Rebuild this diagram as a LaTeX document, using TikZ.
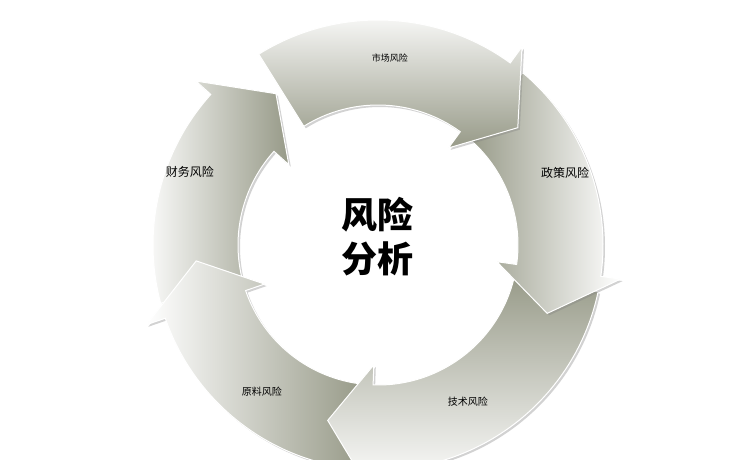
\documentclass[tikz,border=0pt]{standalone}
\usepackage{fontspec}
\newfontfamily\cjk{Noto Sans CJK SC}
\usetikzlibrary{shadows}
\definecolor{ringgray}{HTML}{979A88}
\tikzset{seg/.style={draw=white,line width=1pt,shading=axis,left color=white,right color=ringgray,drop shadow={opacity=0.35,shadow xshift=2pt,shadow yshift=-2pt}},
lab/.style={font=\cjk}}
\newcommand{\ringarrow}[3]{% tail, tip, shading angle
 \pgfmathsetmacro{\hb}{#2+14}
 \path[seg,shading angle=#3] (#1:225) arc[start angle=#1,end angle=\hb,radius=225] -- (\hb:245) -- (#2:182.5) -- (\hb:120) -- (\hb:140) arc[start angle=\hb,end angle=#1,radius=140] -- cycle;}
\begin{document}
\begin{tikzpicture}[x=1pt,y=1pt]
\useasboundingbox[fill=white] (-378,-215) rectangle (372,245);
\ringarrow{-165}{-236}{90}
\ringarrow{-96}{-175}{90}
\ringarrow{-12}{-106}{180}
\ringarrow{50}{-22}{-90}
\ringarrow{122}{40}{0}
\node[lab,font=\cjk\small] (m) at (12,187) {市场风险};
\node[lab,font=\cjk\large] (z) at (187,72) {政策风险};
\node[lab] (j) at (90,-157) {技术风险};
\node[lab] (y) at (-116,-147) {原料风险};
\node[lab,font=\cjk\large] (c) at (-188,73) {财务风险};
\node[lab,font=\cjk\bfseries\fontsize{36}{44}\selectfont,align=center] (f) at (0,8) {风险\\分析};
\end{tikzpicture}
\end{document}
